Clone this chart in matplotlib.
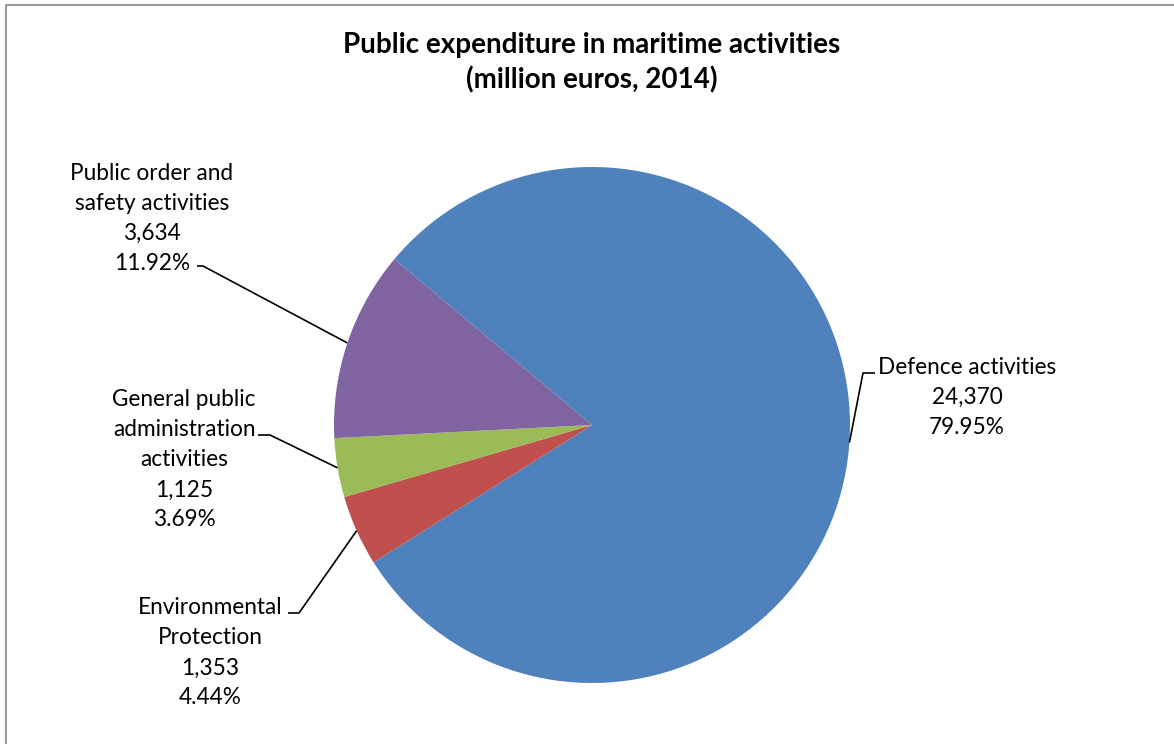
import numpy as np
import matplotlib.pyplot as plt

# 海事活動への公的支出 (百万ユーロ, 2014)
categories = ["Defence activities", "Environmental\nProtection",
              "General public\nadministration\nactivities",
              "Public order and\nsafety activities"]
values = [24370, 1353, 1125, 3634]
colors = ["#4F81BD", "#C0504D", "#9BBB59", "#8064A2"]

W, H = 1174, 744
plt.rcParams['font.family'] = ['Lato', 'DejaVu Sans']

fig = plt.figure(figsize=(W / 100, H / 100), dpi=100)
ax = fig.add_axes([0, 0, 1, 1])

cx, cy, r = 592, H - 425, 258
wedges, _ = ax.pie(values, colors=colors, startangle=140, counterclock=False,
                   center=(cx, cy), radius=r, frame=True,
                   wedgeprops=dict(linewidth=0))
ax.set_xlim(0, W)
ax.set_ylim(0, H)
ax.axis('off')

total = sum(values)
# ラベル位置 (テキスト中心x, 1行目y, 折れ点x, 折れ点y, 端点x)
label_pos = [
    (967, 367, 875, 373, 863),
    (210, 608, 288, 613, 299),
    (184, 400, 258, 435, 270),
    (152, 173, 197, 266, 203),
]
for w, cat, v, (tx, ty, ex, ey, kx) in zip(wedges, categories, values, label_pos):
    pct = v / total * 100
    lines = f"{cat}\n{v:,}\n{pct:.2f}%".split("\n")
    for i, line in enumerate(lines):
        ax.text(tx, H - (ty + 30 * i), line, ha='center', va='center',
                fontsize=16.3, color='black')
    # 引き出し線
    mid = np.deg2rad((w.theta1 + w.theta2) / 2)
    px, py = cx + r * np.cos(mid), cy + r * np.sin(mid)
    ax.plot([ex, kx, px], [H - ey, H - ey, py], color='black', lw=1.2,
            solid_capstyle='butt')

ax.text(592, H - 45, "Public expenditure in maritime activities",
        ha='center', va='center', fontsize=20, fontweight='bold')
ax.text(592, H - 80, "(million euros, 2014)",
        ha='center', va='center', fontsize=20, fontweight='bold')

# 枠線
ax.plot([6, 6, W], [0, H - 5, H - 5], color='#888888', lw=1.2)

fig.savefig("out.png", dpi=100)
